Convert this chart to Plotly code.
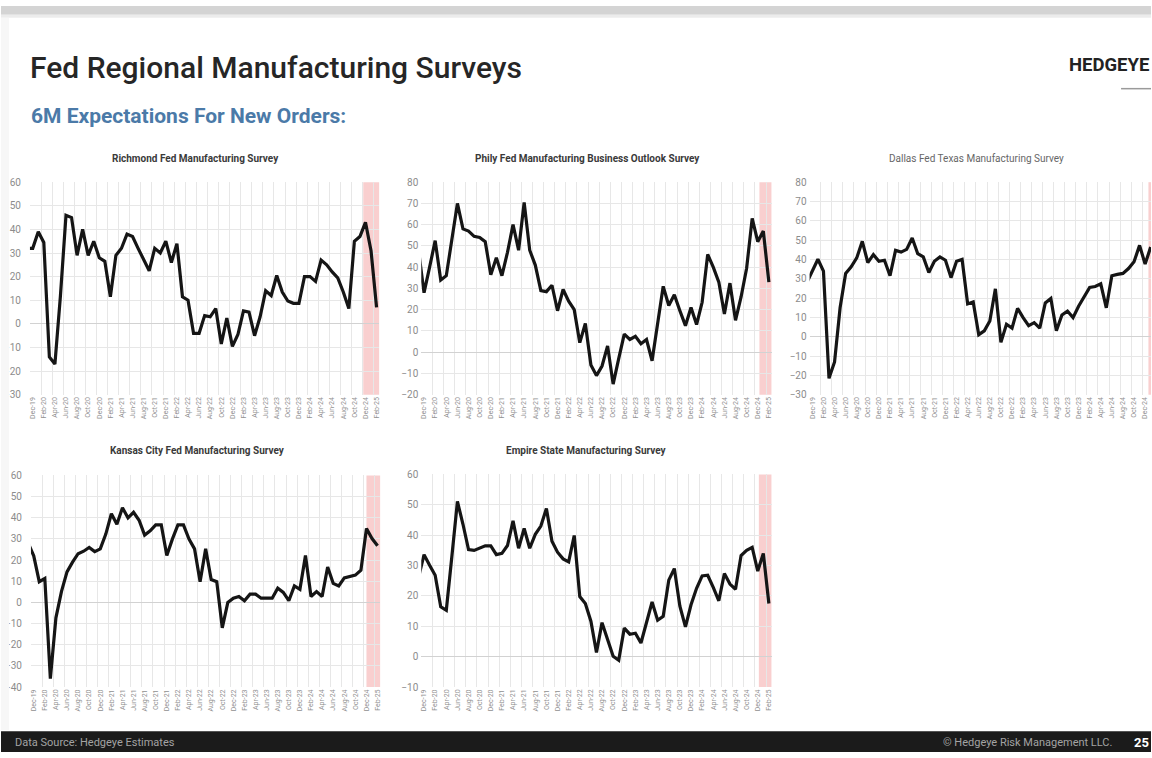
import plotly.graph_objects as go

W, H = 1152, 758

# Monthly categories (Nov-19 sits just left of the axis and is clipped, as in the source)
months = ["Nov-19", "Dec-19",
          "Jan-20", "Feb-20", "Mar-20", "Apr-20", "May-20", "Jun-20", "Jul-20", "Aug-20", "Sep-20", "Oct-20", "Nov-20", "Dec-20",
          "Jan-21", "Feb-21", "Mar-21", "Apr-21", "May-21", "Jun-21", "Jul-21", "Aug-21", "Sep-21", "Oct-21", "Nov-21", "Dec-21",
          "Jan-22", "Feb-22", "Mar-22", "Apr-22", "May-22", "Jun-22", "Jul-22", "Aug-22", "Sep-22", "Oct-22", "Nov-22", "Dec-22",
          "Jan-23", "Feb-23", "Mar-23", "Apr-23", "May-23", "Jun-23", "Jul-23", "Aug-23", "Sep-23", "Oct-23", "Nov-23", "Dec-23",
          "Jan-24", "Feb-24", "Mar-24", "Apr-24", "May-24", "Jun-24", "Jul-24", "Aug-24", "Sep-24", "Oct-24", "Nov-24", "Dec-24",
          "Jan-25", "Feb-25"]

richmond = [32, 32, 39, 34.5, -14, -17, 12, 46, 45, 29, 40, 29, 35, 28, 26.5, 11.5, 29, 32, 38, 37, 32,
            27.5, 22.5, 32, 30, 35, 26, 34, 11.5, 10, -4, -4, 3.5, 3, 6.5, -8.5, 2.5, -9.5, -4.5, 5.5, 5,
            -5, 3, 14, 12, 20.5, 13.5, 9.7, 8.7, 8.7, 20, 20, 18, 27, 25, 22, 19.5, 13.5, 6.5, 35, 37,
            43, 31, 7]

phily = [48, 28, 40, 52.5, 34, 36, 53, 70, 58, 57, 54.5, 54, 52, 36.5, 44.5, 36, 47, 60, 48, 70.5, 48,
         41, 29, 28.5, 31.5, 19.5, 29.5, 24, 20, 4.5, 13.5, -6, -11, -6.5, 3, -15, -3, 8.5, 6, 7.5, 4,
         6, -4, 14, 31, 22, 27, 19.5, 12.5, 21, 13, 23.5, 46, 40, 33, 18, 32.5, 15, 26, 39.5, 63,
         52, 57, 33]

dallas = [28, 34, 40.1, 34, -21.5, -13, 15, 32.8, 36.2, 40.8, 49.4, 38.4, 42.5, 39.1, 39.6, 31.6, 44.7,
          43.8, 45.2, 51.1, 43, 41.3, 33.3, 39.1, 41.3, 39.6, 30.6, 39.1, 40, 17, 18, 1.1, 3.1, 8.2,
          24.8, -2.9, 6.5, 4.5, 14.7, 9.9, 5.7, 7.3, 4.5, 17.5, 19.8, 3.1, 11.3, 13.3, 9.9, 15.8, 20.9,
          25.5, 26, 27.4, 15, 31.6, 32.3, 32.8, 35.3, 38.8, 47.3, 37.6, 46.4, None]

kansas = [28, 22, 9.8, 11.3, -36, -7.3, 5.1, 14.4, 19, 23, 24.2, 26, 24, 25.3, 32.3, 41.9, 36.9, 44.7,
          40, 42.6, 38.8, 31.8, 33.8, 36.6, 36.6, 22.2, 29.9, 36.6, 36.6, 29.9, 25.3, 9.8, 25.3, 10.8,
          9.8, -12, 0, 2, 2.8, 0.8, 3.9, 3.9, 2, 2, 2, 6.7, 4.7, 0.8, 7.8, 6.2, 22.2, 2.8, 5.1, 2.8,
          16.7, 9, 7.8, 11.6, 12.1, 12.9, 15.2, 34.9, 30.2, 26.8]

empire = [26, 33.6, 30.1, 26.8, 16.4, 15.3, 33, 51.1, 43.6, 35.3, 35, 35.8, 36.5, 36.5, 33.6, 34, 36.6,
          44.7, 35.7, 42.2, 35.7, 40.3, 43, 48.8, 38, 34.4, 32.2, 31.2, 39.9, 19.8, 17.5, 11.7, 1.4,
          11.2, 5.2, 0.1, -1.2, 9.4, 7.4, 7.7, 4.5, 11.2, 18, 12, 13.3, 25.2, 29, 16.6, 9.8, 17.1, 22.5,
          26.6, 26.8, 22.8, 18.4, 27.4, 23.9, 22.2, 33.3, 35, 36, 28.2, 34, 17.5]

titles = ["Richmond Fed Manufacturing Survey",
          "Phily Fed Manufacturing Business Outlook Survey",
          "Dallas Fed Texas Manufacturing Survey",
          "Kansas City Fed Manufacturing Survey",
          "Empire State Manufacturing Survey"]
series = [richmond, phily, dallas, kansas, empire]
y_ranges = [(-30, 60), (-20, 80), (-30, 80), (-40, 60), (-10, 60)]

# layout geometry in pixels (left, right, top, bottom)
boxes = [(29, 379, 179, 395), (421, 772, 179, 395), (810, 1152, 179, 395),
         (30, 380, 477, 692), (421, 772, 476, 692)]
title_pos = [(195, 155), (588, 155), (977, 155), (197, 452), (587, 452)]
shade_start = [59.6, 60.3, 60.6, 60.0, 60.2]
x_right = [62.5, 62.5, 61.06, 62.5, 62.5]
label_gap = [8, 2, 2, 8, 2]


def px(x):
    return x / W


def py(y):
    return 1 - y / H


xpos = list(range(-1, len(months) - 1))  # Nov-19 -> -1, Dec-19 -> 0 ...
tickvals = [k for k in range(0, 63, 2)]
ticktext = [months[k + 1] for k in tickvals]
gridvals = [-0.5 + 2 * j for j in range(0, 32)]

fig = go.Figure()
shapes = []
annotations = []
layout_axes = {}

for i, (vals, (y0, y1), (l, r, t, b)) in enumerate(zip(series, y_ranges, boxes)):
    n = i + 1
    xa = "x" if n == 1 else f"x{n}"
    ya = "y" if n == 1 else f"y{n}"
    fig.add_trace(go.Scatter(x=xpos, y=vals, mode="lines", xaxis=xa, yaxis=ya,
                             line=dict(color="#151515", width=3.2),
                             hoverinfo="skip", showlegend=False, connectgaps=False))
    layout_axes["xaxis" if n == 1 else f"xaxis{n}"] = dict(
        domain=[px(l), px(r)], anchor=ya, range=[-0.5, x_right[i]],
        tickmode="array", tickvals=tickvals, ticktext=ticktext, tickangle=-90,
        tickfont=dict(family="Roboto", size=7, color="#909090"),
        showgrid=False, zeroline=False, showline=False, ticks="",
        minor=dict(tickmode="array", tickvals=gridvals, showgrid=True,
                   gridcolor="#e7e7e7", gridwidth=1, ticks=""),
        fixedrange=True)
    layout_axes["yaxis" if n == 1 else f"yaxis{n}"] = dict(
        domain=[py(b), py(t)], anchor=xa, range=[y0, y1],
        tick0=0, dtick=10, showgrid=True, gridcolor="#e7e7e7", gridwidth=1,
        zeroline=True, zerolinecolor="#d2d2d2", zerolinewidth=1.2,
        tickfont=dict(family="Roboto", size=10, color="#8c8c8c"),
        ticklabelstandoff=label_gap[i],
        ticks="", showline=False, fixedrange=True)
    shapes.append(dict(type="rect", xref=xa, yref=f"{ya} domain", x0=shade_start[i], x1=x_right[i],
                       y0=0, y1=1, fillcolor="rgba(244,160,160,0.5)", line=dict(width=0),
                       layer="below"))
    tx, ty = title_pos[i]
    annotations.append(dict(text=f"<b>{titles[i]}</b>" if i != 2 else titles[i],
                            x=px(tx), y=py(ty), xref="paper", yref="paper",
                            xanchor="center", yanchor="middle", showarrow=False,
                            font=dict(family="Roboto", size=10,
                                      color="#3a3a3a" if i != 2 else "#666666")))

# slide chrome
shapes += [
    dict(type="rect", xref="paper", yref="paper", x0=0, x1=1, y0=py(9), y1=1,
         fillcolor="#d4d4d4", line=dict(width=0), layer="above"),
    dict(type="rect", xref="paper", yref="paper", x0=0, x1=1, y0=py(12), y1=py(9),
         fillcolor="#ececec", line=dict(width=0), layer="above"),
    dict(type="rect", xref="paper", yref="paper", x0=0, x1=px(8), y0=py(736), y1=py(12),
         fillcolor="#f7f7f7", line=dict(width=0), layer="above"),
    dict(type="rect", xref="paper", yref="paper", x0=0, x1=1, y0=0, y1=py(737),
         fillcolor="#1b1b1b", line=dict(width=0), layer="above"),
    dict(type="line", xref="paper", yref="paper", x0=px(1122), x1=1, y0=py(84), y1=py(84),
         line=dict(color="#9a9a9a", width=1.5), layer="above"),
]

annotations += [
    dict(text="Fed Regional Manufacturing Surveys", x=px(27), y=py(62), xref="paper", yref="paper",
         xanchor="left", yanchor="middle", showarrow=False,
         font=dict(family="Roboto", size=30, color="#262626", weight=500)),
    dict(text="<b>6M Expectations For New Orders:</b>", x=px(28), y=py(112), xref="paper", yref="paper",
         xanchor="left", yanchor="middle", showarrow=False,
         font=dict(family="Roboto", size=21, color="#4b7aa8")),
    dict(text="<b>HEDGEYE</b>", x=1, y=py(60), xref="paper", yref="paper",
         xanchor="right", yanchor="middle", showarrow=False,
         font=dict(family="Roboto", size=18.5, color="#222222")),
    dict(text="Data Source: Hedgeye Estimates", x=px(12), y=py(748), xref="paper", yref="paper",
         xanchor="left", yanchor="middle", showarrow=False,
         font=dict(family="Roboto", size=11, color="#a3a3a3")),
    dict(text="© Hedgeye Risk Management LLC.", x=px(1116), y=py(748), xref="paper", yref="paper",
         xanchor="right", yanchor="middle", showarrow=False,
         font=dict(family="Roboto", size=11, color="#a3a3a3")),
    dict(text="<b>25</b>", x=1, y=py(748), xref="paper", yref="paper",
         xanchor="right", yanchor="middle", showarrow=False,
         font=dict(family="Roboto", size=13, color="#ffffff")),
]

fig.update_layout(width=W, height=H, margin=dict(l=0, r=0, t=0, b=0),
                  paper_bgcolor="white", plot_bgcolor="white",
                  showlegend=False, hovermode=False,
                  shapes=shapes, annotations=annotations, **layout_axes)

fig.write_html("out.html")
